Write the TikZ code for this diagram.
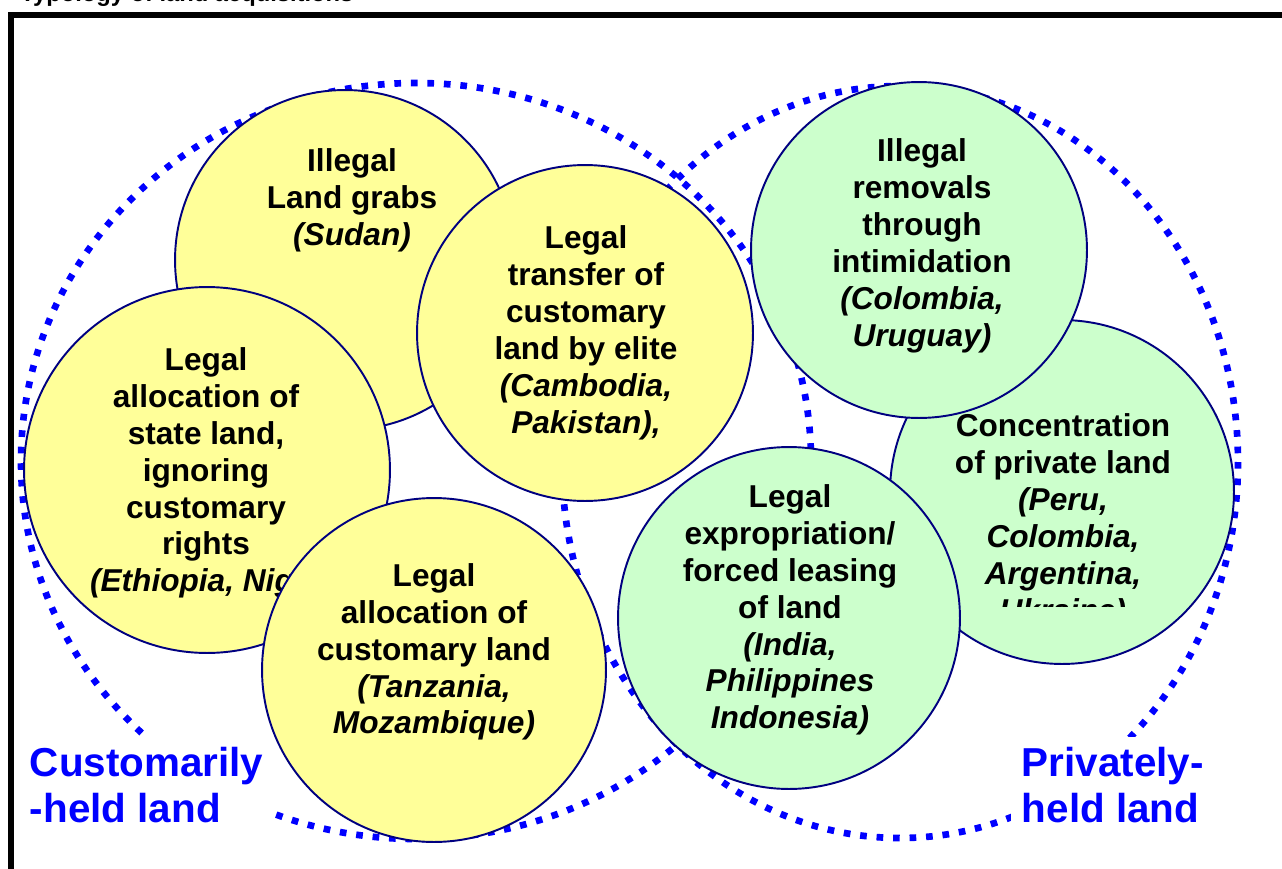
\documentclass[tikz,border=0pt]{standalone}
\usepackage{fontspec}
\setmainfont{Liberation Sans}
\usepackage{tikz}
\definecolor{landBlue}{RGB}{0,0,255}
\definecolor{ballYellow}{RGB}{255,255,153}
\definecolor{ballGreen}{RGB}{204,255,204}
\definecolor{ballEdge}{RGB}{0,0,128}
\newcommand{\cty}[1]{\textit{#1}}

\begin{document}
\begin{tikzpicture}[x=0.02cm,y=-0.02cm,
  ball/.style={circle,draw=ballEdge,line width=1.1pt,inner sep=0pt},
  yball/.style={ball,fill=ballYellow},
  gball/.style={ball,fill=ballGreen},
  btxt/.style={align=center,inner sep=0pt,font=\fontsize{18}{21}\selectfont\bfseries},
  zone/.style={landBlue,line width=3.8pt,dash pattern=on 3.8pt off 5.6pt},
  zonelbl/.style={align=left,fill=white,inner sep=6pt,text=landBlue,
    font=\fontsize{23}{26}\selectfont\bfseries}]
  \useasboundingbox (0,0) rectangle (1282,869);
  % heading (runs off the top) and frame
  \node[anchor=base west,inner sep=0pt,font=\fontsize{13.5}{16}\selectfont\bfseries]
    (head) at (20,1) {Typology of land acquisitions};
  \draw[line width=3.4pt] (11,890) -- (11,15) -- (1300,15);
  % the two kinds of land tenure
  \draw[zone] (416,461) ellipse [x radius=395, y radius=378];
  \draw[zone] (900,462) ellipse [x radius=338, y radius=376];
  \node[zonelbl,anchor=west] (cust-l) at (19,785) {Customarily\\-held land};
  \node[zonelbl,anchor=west] (priv-l) at (1011,785) {Privately-\\held land};
  % ---- customary land (yellow) ----
  \node[yball,minimum size=6.8cm] (grabs) at (345,260) {};
  \node[btxt] (grabs-t) at (352,200) {Illegal\\Land grabs\\\cty{(Sudan)}};
  \node[yball,minimum size=7.32cm] (state) at (207,470) {};
  \node[btxt] (state-t) at (206,473)
    {Legal\\allocation of\\state land,\\ignoring\\customary\\rights\\\hspace*{22pt}\cty{(Ethiopia, Nigeria)}};
  \node[yball,minimum size=6.72cm] (elite) at (585,333) {};
  \node[btxt] (elite-t) at (586,333)
    {Legal\\transfer of\\customary\\land by elite\\\cty{(Cambodia,}\\\cty{Pakistan),}};
  \node[yball,minimum size=6.88cm] (custom) at (434,670) {};
  \node[btxt] (custom-t) at (434,652)
    {Legal\\allocation of\\customary land\\\cty{(Tanzania,}\\\cty{Mozambique)}};
  % ---- private land (green) ----
  \node[gball,minimum size=6.88cm] (conc) at (1062,492) {};
  \begin{scope}
    \clip (880,400) rectangle (1240,606);
    \node[btxt] (conc-t) at (1063,521)
      {Concentration\\of private land\\\cty{(Peru,}\\\cty{Colombia,}\\\cty{Argentina,}\\\cty{Ukraine)}};
  \end{scope}
  \node[gball,minimum size=6.72cm] (remov) at (919,250) {};
  \node[btxt] (remov-t) at (922,246)
    {Illegal\\removals\\through\\intimidation\\\cty{(Colombia,}\\\cty{Uruguay)}};
  \node[gball,minimum size=6.84cm] (expro) at (789,618) {};
  \node[btxt] (expro-t) at (790,610)
    {Legal\\expropriation/\\forced leasing\\of land\\\cty{(India,}\\\cty{Philippines}\\\cty{Indonesia)}};
\end{tikzpicture}
\end{document}
